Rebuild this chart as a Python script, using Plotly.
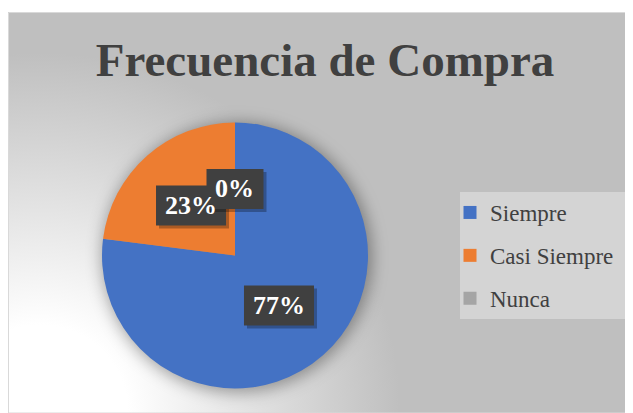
import math
import base64
import plotly.graph_objects as go

# ---------------- data ----------------
categories = ["Siempre", "Casi Siempre", "Nunca"]
values = [77, 23, 0]
colors = ["#4472C4", "#ED7D31", "#A5A5A5"]
title_text = "Frecuencia de Compra"

SERIF = "Liberation Serif, Times New Roman, serif"

# ---------------- geometry (screen pixels) ----------------
SW, SH = 633, 413          # window
OFF = 8                    # page body margin
FW, FH = SW - OFF, SH - OFF
CA_X0, CA_Y0 = 8, 12       # chart-area top-left (screen)
CX, CY, R = 235, 255.5, 133


def fx(x):
    return (x - OFF) / FW


def fy(y):
    return 1 - (y - OFF) / FH


# background: radial gradient + soft pie shadow
caw, cah = SW - CA_X0, SH - CA_Y0
svg = f'''<svg xmlns="http://www.w3.org/2000/svg" width="{caw}" height="{cah}" viewBox="0 0 {caw} {cah}">
<defs>
<radialGradient id="g" cx="32" cy="{cah}" r="400" gradientUnits="userSpaceOnUse">
<stop offset="0" stop-color="#FFFFFF"/>
<stop offset="0.22" stop-color="#FFFFFF"/>
<stop offset="0.9" stop-color="#BFBFBF"/>
<stop offset="1" stop-color="#BFBFBF"/>
</radialGradient>
<filter id="b" x="-50%" y="-50%" width="200%" height="200%"><feGaussianBlur stdDeviation="8"/></filter>
</defs>
<rect width="{caw}" height="{cah}" fill="url(#g)"/>
<circle cx="{CX - CA_X0 + 2}" cy="{CY - CA_Y0 + 2}" r="{R + 2}" fill="#000" fill-opacity="0.35" filter="url(#b)"/>
</svg>'''
bg_src = "data:image/svg+xml;base64," + base64.b64encode(svg.encode()).decode()

fig = go.Figure()

fig.add_trace(go.Pie(
    labels=categories,
    values=values,
    marker=dict(colors=colors, line=dict(width=0)),
    sort=False,
    direction="clockwise",
    rotation=0,
    textinfo="none",
    showlegend=False,
    hoverinfo="label+percent",
    domain=dict(x=[fx(CX - R), fx(CX + R)], y=[fy(CY + R), fy(CY - R)]),
))

# legend entries
for cat, col in zip(categories, colors):
    fig.add_trace(go.Scatter(
        x=[None], y=[None], mode="markers", name=cat, legendgroup=cat,
        marker=dict(symbol="square", size=13, color=col),
        hoverinfo="skip",
    ))

shapes = [
    # chart area border
    dict(type="rect", xref="paper", yref="paper",
         x0=fx(CA_X0 + 0.5), y0=fy(SH), x1=fx(SW), y1=fy(CA_Y0 + 0.5),
         line=dict(color="#D9D9D9", width=1), fillcolor="rgba(0,0,0,0)", layer="below"),
    # legend box
    dict(type="rect", xref="paper", yref="paper",
         x0=fx(460), y0=fy(319), x1=fx(629), y1=fy(192),
         line=dict(width=0), fillcolor="#D4D4D4", layer="below"),
]

annotations = []
total = sum(values)
cum = 0
for cat, v in zip(categories, values):
    mid = (cum + v / 2) / total
    cum += v
    th = 2 * math.pi * mid
    lx = CX + 0.5 * R * math.sin(th)
    ly = CY - 0.5 * R * math.cos(th)
    pct = f"{round(100 * v / total)}%"
    bw = 13 * (len(pct) - 1) + 44
    bh = 40
    # shadow then box
    shapes.append(dict(type="rect", xref="paper", yref="paper",
                       x0=fx(lx - bw / 2 + 3), x1=fx(lx + bw / 2 + 3),
                       y0=fy(ly + bh / 2 + 3), y1=fy(ly - bh / 2 + 3),
                       line=dict(width=0), fillcolor="rgba(0,0,0,0.28)", layer="above"))
    shapes.append(dict(type="rect", xref="paper", yref="paper",
                       x0=fx(lx - bw / 2), x1=fx(lx + bw / 2),
                       y0=fy(ly + bh / 2), y1=fy(ly - bh / 2),
                       line=dict(width=0), fillcolor="#404040", layer="above"))
    annotations.append(dict(
        x=fx(lx), y=fy(ly), xref="paper", yref="paper", text=f"<b>{pct}</b>", showarrow=False,
        xanchor="center", yanchor="middle", align="center",
        font=dict(family=SERIF, size=26, color="#FFFFFF"),
    ))

fig.update_layout(
    width=FW, height=FH,
    margin=dict(l=0, r=0, t=0, b=0, pad=0),
    font=dict(family=SERIF, color="#404040"),
    paper_bgcolor="#FFFFFF",
    plot_bgcolor="rgba(0,0,0,0)",
    xaxis=dict(visible=False),
    yaxis=dict(visible=False),
    title=dict(text=f"<b>{title_text}</b>", x=fx(325), xanchor="center", xref="paper",
               y=fy(60), yanchor="middle", yref="paper",
               font=dict(family=SERIF, size=47, color="#404040")),
    legend=dict(x=fx(450), y=fy(191), xanchor="left", yanchor="top",
                bgcolor="rgba(0,0,0,0)", borderwidth=0, tracegroupgap=10,
                font=dict(family=SERIF, size=23, color="#404040")),
    images=[dict(source=bg_src, xref="paper", yref="paper",
                 x=fx(CA_X0), y=fy(CA_Y0), sizex=caw / FW, sizey=cah / FH,
                 xanchor="left", yanchor="top", sizing="stretch", layer="below")],
    shapes=shapes,
    annotations=annotations,
)

fig.write_html("out.html", config={"displayModeBar": False})
